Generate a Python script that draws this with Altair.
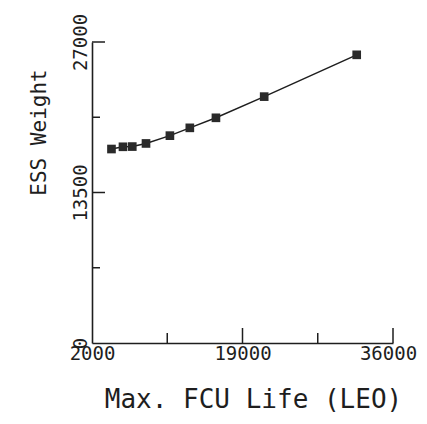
import altair as alt
import pandas as pd

# Data
fcu_life = [4200, 5500, 6550, 8100, 10800, 13050, 16000, 21450, 31900]
ess_weight = [17400, 17600, 17620, 17900, 18600, 19300, 20200, 22100, 25850]

x_label_vals = [2000, 19000, 36000]
y_label_vals = [0, 13500, 27000]
x_major_ticks = [19000, 36000]
x_minor_ticks = [10500, 27500]
y_major_ticks = [13500, 27000]
y_minor_ticks = [6750, 20250]

FONT = "DejaVu Sans Mono"
INK = "#1e1e1e"
W, H = 301, 301

df = pd.DataFrame({"life": fcu_life, "weight": ess_weight})

xscale = alt.Scale(domain=[2000, 36000], nice=False, zero=False)
yscale = alt.Scale(domain=[0, 27000], nice=False, zero=False)

xaxis = alt.Axis(
    values=x_label_vals, ticks=False, grid=False, domainColor=INK, domainWidth=1.6,
    labelFont=FONT, labelFontSize=19, labelColor=INK, labelPadding=1,
    labelOffset={"condition": {"test": "datum.value == 36000", "value": -5}, "value": 0},
    labelOverlap=False, labelBound=False, labelFlush=False, format="d",
    title="Max. FCU Life (LEO)", titleFont=FONT, titleFontSize=26, titleFontWeight="normal",
    titleColor=INK, titleX=161, titleY=43, titleBaseline="top", titleAlign="center",
)
yaxis = alt.Axis(
    values=y_label_vals, ticks=False, grid=False, domainColor=INK, domainWidth=1.6,
    labelFont=FONT, labelFontSize=19, labelColor=INK, labelPadding=2,
    labelAngle=270, labelAlign="center", labelBaseline="bottom",
    labelOverlap=False, labelBound=False, labelFlush=False, format="d",
    title="ESS Weight", titleFont=FONT, titleFontSize=21, titleFontWeight="normal",
    titleColor=INK, titleX=-53, titleY=90, titleAngle=270, titleAlign="center",
    titleBaseline="middle",
)

line = alt.Chart(df).mark_line(color=INK, strokeWidth=1.5).encode(
    x=alt.X("life:Q", scale=xscale, axis=xaxis),
    y=alt.Y("weight:Q", scale=yscale, axis=yaxis),
)
pts = alt.Chart(df).mark_point(shape="square", filled=True, size=75, color="#2a2a2a", opacity=1).encode(
    x=alt.X("life:Q", scale=xscale),
    y=alt.Y("weight:Q", scale=yscale),
)

def xticks(vals, length):
    return alt.Chart(pd.DataFrame({"v": vals})).mark_rule(color=INK, strokeWidth=1.5).encode(
        x=alt.X("v:Q", scale=xscale),
        y=alt.value(H), y2=alt.value(H - length),
    )

def yticks(vals, length):
    return alt.Chart(pd.DataFrame({"v": vals})).mark_rule(color=INK, strokeWidth=1.5).encode(
        y=alt.Y("v:Q", scale=yscale),
        x=alt.value(0), x2=alt.value(length),
    )

chart = alt.layer(
    line, pts,
    xticks(x_major_ticks, 15), xticks(x_minor_ticks, 10),
    yticks(y_major_ticks, 13), yticks(y_minor_ticks, 8),
).properties(
    width=W, height=H,
    autosize=alt.AutoSizeParams(type="none"),
    padding={"left": 84, "top": 34, "right": 26, "bottom": 73},
    background="white",
).configure_view(stroke=None)

chart.save("out.html", embed_options={"renderer": "svg", "actions": False})
